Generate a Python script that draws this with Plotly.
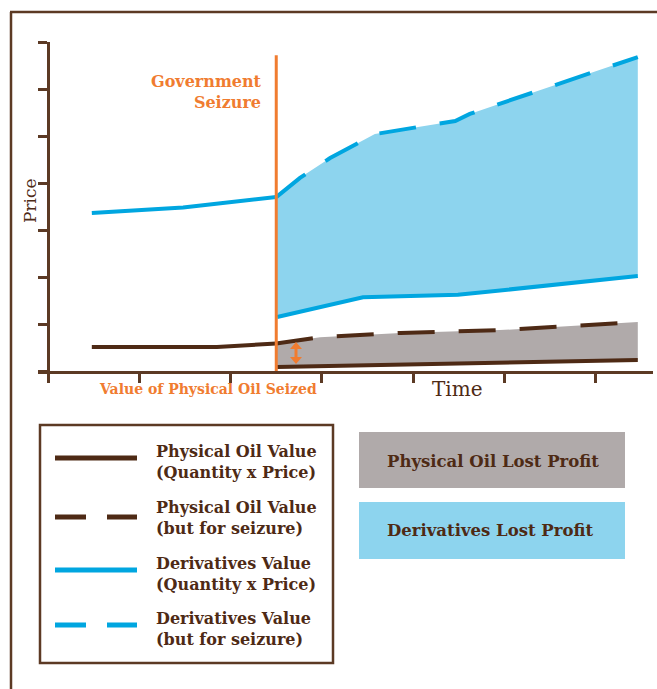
import plotly.graph_objects as go

# ---------------- data (chart units: x = time ticks, y = price ticks) ----------------
seizure_x = 2.5

deriv_pre_x = [0.48, 1.48, 2.50]
deriv_pre_y = [3.36, 3.48, 3.70]

deriv_butfor_x = [2.50, 2.76, 3.09, 3.58, 4.46, 4.62, 6.46]
deriv_butfor_y = [3.70, 4.11, 4.53, 5.04, 5.32, 5.47, 6.68]

deriv_actual_x = [2.51, 3.45, 4.49, 6.46]
deriv_actual_y = [1.15, 1.57, 1.62, 2.02]

phys_pre_x = [0.48, 1.85, 2.50]
phys_pre_y = [0.51, 0.51, 0.585]

phys_butfor_x = [2.50, 2.98, 3.86, 4.95, 6.46]
phys_butfor_y = [0.585, 0.72, 0.81, 0.87, 1.04]

phys_actual_x = [2.51, 6.46]
phys_actual_y = [0.085, 0.234]

x_ticks = [0, 1, 2, 3, 4, 5, 6]
y_ticks = [0, 1, 2, 3, 4, 5, 6, 7]

legend_labels = [
    "Physical Oil Value<br>(Quantity x Price)",
    "Physical Oil Value<br>(but for seizure)",
    "Derivatives Value<br>(Quantity x Price)",
    "Derivatives Value<br>(but for seizure)",
]
box_labels = ["Physical Oil Lost Profit", "Derivatives Lost Profit"]

# ---------------- styles ----------------
W, H = 657, 689
BROWN = "#4E2A15"
FRAME = "#5C3A24"
BLUE = "#00A6E0"
BLUE_FILL = "#8DD4EE"
GREY_FILL = "#B0AAAA"
ORANGE = "#F07C30"
SERIF = "DejaVu Serif"
DASH = "37px,24px"


def px(x):
    return x / W


def py(y):
    return 1 - y / H


fig = go.Figure()

# fills (polygons built from the series arrays)
fig.add_trace(go.Scatter(
    x=deriv_butfor_x + deriv_actual_x[::-1],
    y=deriv_butfor_y + deriv_actual_y[::-1],
    fill="toself", fillcolor=BLUE_FILL, line=dict(width=0), mode="lines",
    hoverinfo="skip", showlegend=False))
fig.add_trace(go.Scatter(
    x=phys_butfor_x + phys_actual_x[::-1],
    y=phys_butfor_y + phys_actual_y[::-1],
    fill="toself", fillcolor=GREY_FILL, line=dict(width=0), mode="lines",
    hoverinfo="skip", showlegend=False))

# lines
line_specs = [
    (deriv_pre_x, deriv_pre_y, BLUE, "solid"),
    (deriv_butfor_x, deriv_butfor_y, BLUE, DASH),
    (deriv_actual_x, deriv_actual_y, BLUE, "solid"),
    (phys_pre_x, phys_pre_y, BROWN, "solid"),
    (phys_butfor_x, phys_butfor_y, BROWN, DASH),
    (phys_actual_x, phys_actual_y, BROWN, "solid"),
]
for xs, ys, col, dash in line_specs:
    fig.add_trace(go.Scatter(x=xs, y=ys, mode="lines",
                             line=dict(color=col, width=4, dash=dash),
                             hoverinfo="skip", showlegend=False))

shapes = []
# seizure line
shapes.append(dict(type="line", xref="x", yref="y", x0=seizure_x, x1=seizure_x,
                   y0=0, y1=6.72, line=dict(color=ORANGE, width=3), layer="above"))
# outer frame (top + left)
shapes.append(dict(type="line", xref="paper", yref="paper", x0=px(10), x1=px(657),
                   y0=py(12), y1=py(12), line=dict(color=FRAME, width=2.5)))
shapes.append(dict(type="line", xref="paper", yref="paper", x0=px(11), x1=px(11),
                   y0=py(12), y1=py(689), line=dict(color=FRAME, width=2.5)))
# legend box
shapes.append(dict(type="rect", xref="paper", yref="paper", x0=px(40), x1=px(333),
                   y0=py(425), y1=py(663), line=dict(color=FRAME, width=2.5)))
# legend samples
sample_y = [458, 517, 570, 625]
sample_style = [(BROWN, "solid"), (BROWN, "31px,21px"), (BLUE, "solid"), (BLUE, "31px,21px")]
for yy, (col, dash) in zip(sample_y, sample_style):
    shapes.append(dict(type="line", xref="paper", yref="paper", x0=px(55), x1=px(137),
                       y0=py(yy), y1=py(yy), line=dict(color=col, width=5, dash=dash)))
# right-hand boxes
shapes.append(dict(type="rect", xref="paper", yref="paper", x0=px(359), x1=px(625),
                   y0=py(432), y1=py(488), fillcolor=GREY_FILL, line=dict(width=0)))
shapes.append(dict(type="rect", xref="paper", yref="paper", x0=px(359), x1=px(625),
                   y0=py(502), y1=py(559), fillcolor=BLUE_FILL, line=dict(width=0)))

# double-headed orange arrow (lost profit on physical oil at seizure)
AX, A_TOP, A_BOT = 296, 342, 364
shapes.append(dict(type="line", xref="paper", yref="paper", x0=px(AX), x1=px(AX),
                   y0=py(A_TOP + 5), y1=py(A_BOT - 5), line=dict(color=ORANGE, width=3)))
shapes.append(dict(type="path", xref="paper", yref="paper",
                   path=f"M {px(AX)},{py(A_TOP)} L {px(AX - 6)},{py(A_TOP + 7)} "
                        f"L {px(AX + 6)},{py(A_TOP + 7)} Z",
                   fillcolor=ORANGE, line=dict(width=0)))
shapes.append(dict(type="path", xref="paper", yref="paper",
                   path=f"M {px(AX)},{py(A_BOT)} L {px(AX - 6)},{py(A_BOT - 7)} "
                        f"L {px(AX + 6)},{py(A_BOT - 7)} Z",
                   fillcolor=ORANGE, line=dict(width=0)))

annotations = []
annotations.append(dict(text="<b>Government<br>Seizure</b>", xref="paper", yref="paper",
                        x=px(264), y=py(92), xanchor="right", yanchor="middle", align="right",
                        showarrow=False, font=dict(family=SERIF, size=16, color=ORANGE)))
annotations.append(dict(text="<b>Value of Physical Oil Seized</b>", xref="paper", yref="paper",
                        x=px(208), y=py(389), xanchor="center", yanchor="middle",
                        showarrow=False, font=dict(family=SERIF, size=14, color=ORANGE)))
annotations.append(dict(text="Time", xref="paper", yref="paper",
                        x=px(457), y=py(389), xanchor="center", yanchor="middle",
                        showarrow=False, font=dict(family=SERIF, size=20, color=BROWN)))
annotations.append(dict(text="Price", xref="paper", yref="paper", textangle=-90,
                        x=px(30), y=py(201), xanchor="center", yanchor="middle",
                        showarrow=False, font=dict(family=SERIF, size=17, color=BROWN)))
label_y = [462, 518, 574, 629]
for yy, lab in zip(label_y, legend_labels):
    annotations.append(dict(text="<b>" + lab + "</b>", xref="paper", yref="paper",
                            x=px(154), y=py(yy), xanchor="left", yanchor="middle", align="left",
                            showarrow=False, font=dict(family=SERIF, size=16, color=BROWN)))
for yy, lab in zip([462, 530], box_labels):
    annotations.append(dict(text="<b>" + lab + "</b>", xref="paper", yref="paper",
                            x=px(385), y=py(yy), xanchor="left", yanchor="middle",
                            showarrow=False, font=dict(family=SERIF, size=16.5, color=BROWN)))

fig.update_layout(
    width=W, height=H,
    margin=dict(l=0, r=0, t=0, b=0),
    paper_bgcolor="white", plot_bgcolor="white",
    showlegend=False,
    xaxis=dict(domain=[px(38), px(653)], range=[-10 / 91.3, 605 / 91.3],
               tickvals=x_ticks, ticks="outside", ticklen=9, tickwidth=2.5,
               tickcolor=FRAME, showticklabels=False, showgrid=False, zeroline=False,
               showline=True, linecolor=FRAME, linewidth=2.5, anchor="y", fixedrange=True),
    yaxis=dict(domain=[py(371), py(42)], range=[0, 7], anchor="free", position=px(48),
               tickvals=y_ticks, ticks="outside", ticklen=9, tickwidth=2.5,
               tickcolor=FRAME, showticklabels=False, showgrid=False, zeroline=False,
               showline=True, linecolor=FRAME, linewidth=2.5, fixedrange=True),
    shapes=shapes,
    annotations=annotations,
)

fig.write_html("out.html")
